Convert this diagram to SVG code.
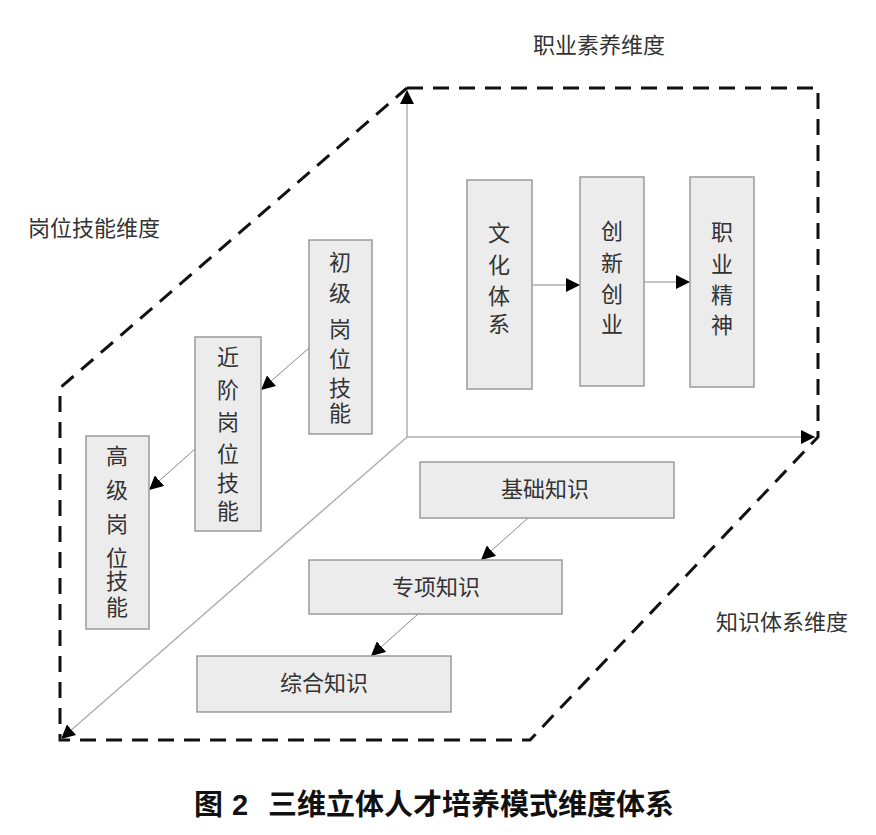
<svg xmlns="http://www.w3.org/2000/svg" width="876" height="835" viewBox="0 0 876 835">
<defs>
<style>
.box{fill:#ececec;stroke:#9a9a9a;stroke-width:1.5}
.t{font-family:"Liberation Sans","Noto Sans CJK SC",sans-serif;font-size:22px;fill:#333;text-anchor:middle}
.lbl{font-family:"Liberation Sans","Noto Sans CJK SC",sans-serif;font-size:22px;fill:#333}
.cap{font-family:"Liberation Sans","Noto Sans CJK SC",sans-serif;font-size:29px;font-weight:bold;fill:#111}
.ax{stroke:#b0b0b0;stroke-width:1.5;fill:none}
.cn{stroke:#888;stroke-width:1;fill:none}
.dash{stroke:#111;stroke-width:3;fill:none;stroke-dasharray:16 10}
</style>
<marker id="ah" viewBox="0 0 10 10" refX="10" refY="5" markerWidth="14" markerHeight="14" markerUnits="userSpaceOnUse" orient="auto">
<path d="M0,0 L10,5 L0,10 z" fill="#000"/>
</marker>
</defs>
<rect width="876" height="835" fill="#fff"/>
<g id="frame">
<path class="dash" d="M407,88 L818,88 L818,437 L530,740 L60,740 L60,388 L407,88"/>
</g>
<g id="connectors">
<line class="ax" x1="407" y1="437" x2="407" y2="90" marker-end="url(#ah)"/>
<line class="ax" x1="407" y1="437" x2="815" y2="437" marker-end="url(#ah)"/>
<line class="ax" x1="407" y1="437" x2="61" y2="739" marker-end="url(#ah)"/>
<line class="cn" x1="309" y1="348" x2="261" y2="390" marker-end="url(#ah)"/>
<line class="cn" x1="195" y1="449" x2="149" y2="490" marker-end="url(#ah)"/>
<line class="cn" x1="532" y1="285" x2="580" y2="285" marker-end="url(#ah)"/>
<line class="cn" x1="644" y1="282" x2="690" y2="282" marker-end="url(#ah)"/>
<line class="cn" x1="528" y1="518" x2="481" y2="560" marker-end="url(#ah)"/>
<line class="cn" x1="418" y1="614" x2="371" y2="656" marker-end="url(#ah)"/>
</g>
<g id="n_chuji">
<rect class="box" x="309" y="240" width="63" height="194"/>
<text class="t"><tspan x="340" y="270">初</tspan><tspan x="340" y="301">级</tspan><tspan x="340" y="337">岗</tspan><tspan x="340" y="367">位</tspan><tspan x="340" y="396">技</tspan><tspan x="340" y="421">能</tspan></text>
</g>
<g id="n_jinjie">
<rect class="box" x="195" y="337" width="66" height="194"/>
<text class="t"><tspan x="228" y="365">近</tspan><tspan x="228" y="398">阶</tspan><tspan x="228" y="430">岗</tspan><tspan x="228" y="462">位</tspan><tspan x="228" y="491">技</tspan><tspan x="228" y="519">能</tspan></text>
</g>
<g id="n_gaoji">
<rect class="box" x="86" y="436" width="63" height="193"/>
<text class="t"><tspan x="117" y="464">高</tspan><tspan x="117" y="498">级</tspan><tspan x="117" y="532">岗</tspan><tspan x="117" y="566">位</tspan><tspan x="117" y="589">技</tspan><tspan x="117" y="615">能</tspan></text>
</g>
<g id="n_wenhua">
<rect class="box" x="467" y="180" width="65" height="209"/>
<text class="t"><tspan x="499" y="241">文</tspan><tspan x="499" y="273">化</tspan><tspan x="499" y="304">体</tspan><tspan x="499" y="332">系</tspan></text>
</g>
<g id="n_chuangxin">
<rect class="box" x="580" y="177" width="64" height="209"/>
<text class="t"><tspan x="612" y="239">创</tspan><tspan x="612" y="271">新</tspan><tspan x="612" y="302">创</tspan><tspan x="612" y="332">业</tspan></text>
</g>
<g id="n_zhiye">
<rect class="box" x="690" y="177" width="64" height="210"/>
<text class="t"><tspan x="722" y="240">职</tspan><tspan x="722" y="272">业</tspan><tspan x="722" y="303">精</tspan><tspan x="722" y="333">神</tspan></text>
</g>
<g id="n_jichu">
<rect class="box" x="420" y="462" width="254" height="56"/>
<text class="t" x="545" y="497">基础知识</text>
</g>
<g id="n_zhuanxiang">
<rect class="box" x="309" y="560" width="253" height="54"/>
<text class="t" x="436" y="595">专项知识</text>
</g>
<g id="n_zonghe">
<rect class="box" x="197" y="656" width="254" height="56"/>
<text class="t" x="324" y="691">综合知识</text>
</g>
<g id="labels">
<text class="lbl" x="533" y="53">职业素养维度</text>
<text class="lbl" x="28" y="236">岗位技能维度</text>
<text class="lbl" x="716" y="630">知识体系维度</text>
<text class="cap" y="815"><tspan x="194">图</tspan><tspan x="232">2</tspan><tspan x="268">三维立体人才培养模式维度体系</tspan></text>
</g>
</svg>
